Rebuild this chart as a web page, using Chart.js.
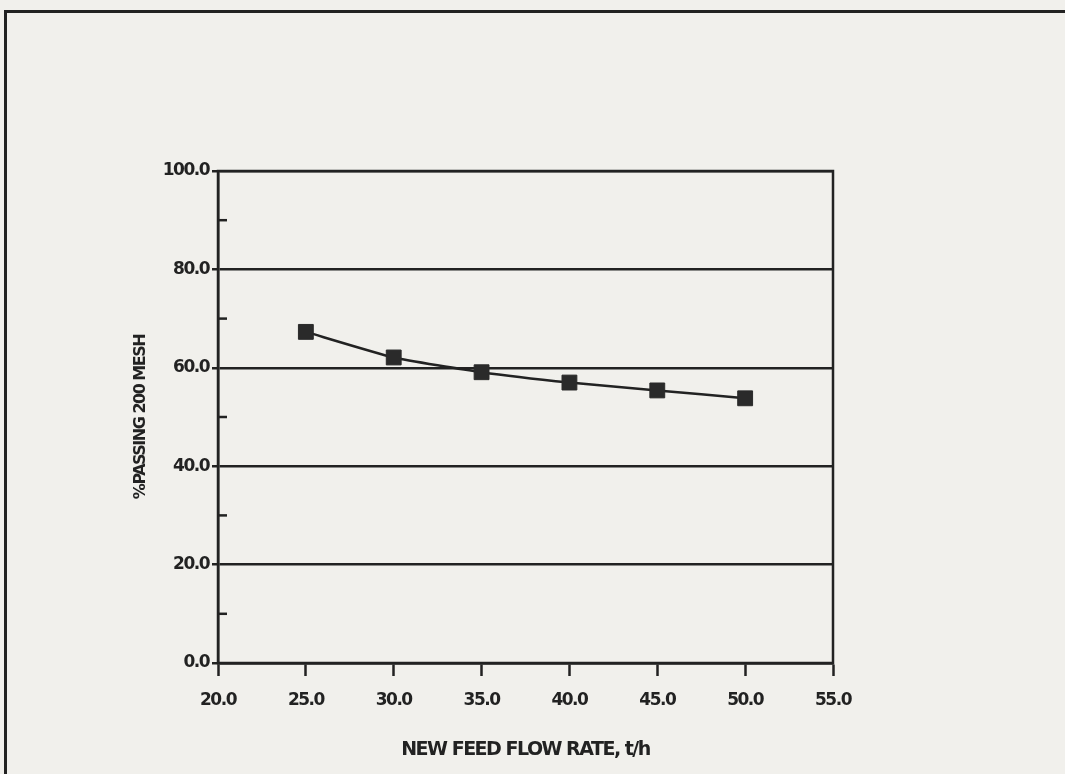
<!DOCTYPE html>
<html lang="en">
<head>
    <meta charset="UTF-8">
    <title>% Passing 200 Mesh vs New Feed Flow Rate</title>
    <script src="https://cdn.jsdelivr.net/npm/chart.js"></script>
    <style>
        body {
            margin: 0;
            background: #f1f0ec;
            font-family: 'DejaVu Sans', sans-serif;
        }
        .page {
            position: relative;
            width: 1065px;
            height: 774px;
            overflow: hidden;
        }
        /* outer frame of the scanned page */
        .frame {
            position: absolute;
            left: 4px;
            top: 10px;
            width: 1100px;
            height: 800px;
            border-top: 3px solid #222;
            border-left: 3px solid #222;
        }
        canvas {
            position: absolute;
            left: 0;
            top: 0;
        }
    </style>
</head>
<body>
    <div class="page">
        <div class="frame"></div>
        <canvas id="passingChart" width="1065" height="774"></canvas>
    </div>
    <script>
        // data
        const feedRates = [25, 30, 35, 40, 45, 50];          // t/h
        const passing200 = [67.3, 62.1, 59.1, 57.0, 55.4, 53.8]; // % passing 200 mesh

        const xTitle = 'NEW FEED FLOW RATE, t/h';
        const yTitle = '%PASSING 200 MESH';

        const ink = '#222222';
        const tickFont = { family: 'DejaVu Sans', size: 17, weight: 'bold' };

        // tight plotter lettering + frame and inner minor ticks
        const plotterLook = {
            id: 'plotterLook',
            beforeDraw(chart) {
                chart.ctx.letterSpacing = '-1.5px';
            },
            afterDraw(chart) {
                const { ctx, chartArea: a } = chart;
                const y = chart.scales.y;
                ctx.save();
                ctx.strokeStyle = ink;
                ctx.lineWidth = 2.5;
                ctx.strokeRect(a.left, a.top, a.right - a.left, a.bottom - a.top);
                // short inward ticks at the odd tens
                y.ticks.forEach(t => {
                    if (t.value % 20 !== 0) {
                        const py = y.getPixelForValue(t.value);
                        ctx.beginPath();
                        ctx.moveTo(a.left, py);
                        ctx.lineTo(a.left + 9, py);
                        ctx.stroke();
                    }
                });
                ctx.restore();
            }
        };

        new Chart(document.getElementById('passingChart'), {
            type: 'line',
            data: {
                datasets: [{
                    data: feedRates.map((x, i) => ({ x: x, y: passing200[i] })),
                    borderColor: ink,
                    borderWidth: 2.5,
                    pointStyle: 'rect',
                    pointRadius: 10.5,
                    pointBackgroundColor: '#2a2a2a',
                    pointBorderColor: '#2a2a2a',
                    pointBorderWidth: 1,
                    tension: 0.15
                }]
            },
            options: {
                responsive: false,
                animation: false,
                layout: { padding: { left: 120, top: 171, right: 232, bottom: 0 } },
                plugins: {
                    legend: { display: false },
                    tooltip: { enabled: false }
                },
                scales: {
                    x: {
                        type: 'linear',
                        min: 20,
                        max: 55,
                        afterFit(scale) { scale.height = 111; },
                        ticks: {
                            stepSize: 5,
                            color: ink,
                            font: tickFont,
                            padding: 14,
                            maxRotation: 0,
                            callback: v => v.toFixed(1)
                        },
                        grid: {
                            drawOnChartArea: false,
                            tickLength: 13,
                            tickColor: ink,
                            tickWidth: 2.5
                        },
                        border: { color: ink, width: 2.5 },
                        title: {
                            display: true,
                            text: xTitle,
                            color: ink,
                            font: { family: 'DejaVu Sans', size: 19, weight: 'bold' },
                            padding: { top: 0, bottom: 13 }
                        }
                    },
                    y: {
                        min: 0,
                        max: 100,
                        afterFit(scale) { scale.width = 98; },
                        ticks: {
                            stepSize: 10,
                            color: ink,
                            font: tickFont,
                            padding: 3,
                            callback: v => (v % 20 === 0 ? v.toFixed(1) : '')
                        },
                        grid: {
                            color: ctx => (ctx.tick && ctx.tick.value % 20 === 0 ? ink : 'rgba(0,0,0,0)'),
                            lineWidth: 2.5,
                            tickLength: 6,
                            tickColor: ctx => (ctx.tick && ctx.tick.value % 20 === 0 ? ink : 'rgba(0,0,0,0)')
                        },
                        border: { color: ink, width: 2.5 },
                        title: {
                            display: true,
                            text: yTitle,
                            color: ink,
                            font: { family: 'DejaVu Sans', size: 16, weight: 'bold' },
                            padding: { top: 11, bottom: 0 }
                        }
                    }
                }
            },
            plugins: [plotterLook]
        });
    </script>
</body>
</html>
